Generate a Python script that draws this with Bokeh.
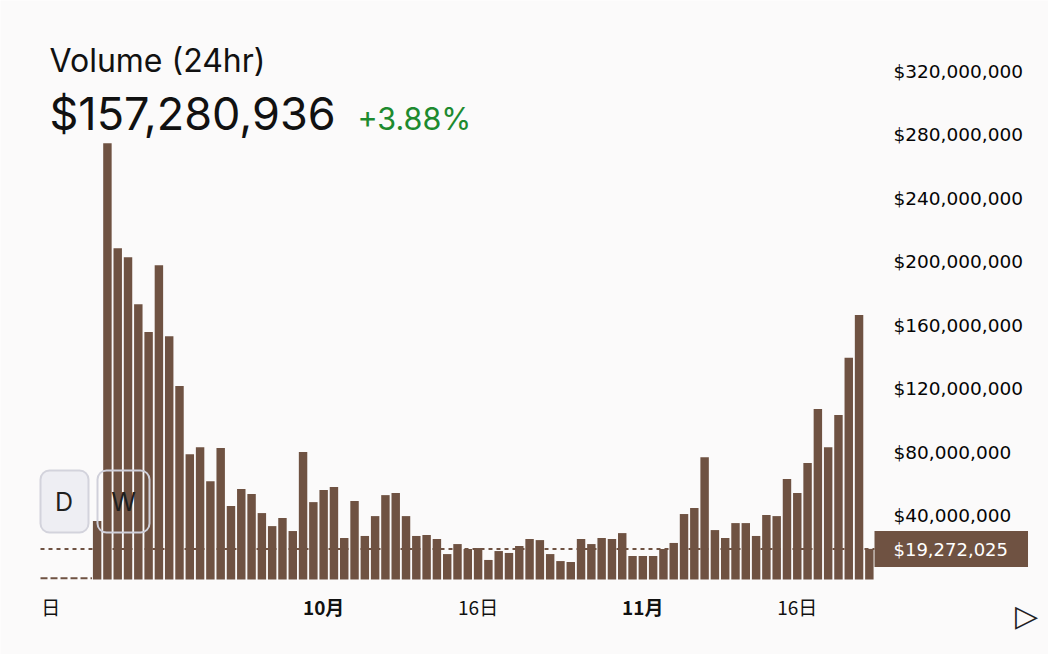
from bokeh.plotting import figure
from bokeh.models import (Range1d, FixedTicker, NumeralTickFormatter, Label,
                          ColumnDataSource, LinearAxis)
from bokeh.embed import file_html
from bokeh.resources import INLINE

# ---------------- data ----------------
# one bar per day, 9 Sep .. 23 Nov (index 0 .. 75)
day_index = list(range(76))
volume_musd = [
    36.8, 274.5, 208.5, 202.8, 173.3, 155.7, 197.8, 153.1, 121.7, 78.9,
    83.3, 61.9, 82.7, 46.2, 56.9, 53.8, 41.8, 33.6, 38.7, 30.5,
    80.2, 48.7, 56.3, 58.2, 26.1, 49.4, 27.4, 39.9, 53.1, 54.4,
    39.9, 27.4, 28.0, 25.5, 16.0, 22.3, 19.2, 19.8, 12.3, 17.9,
    16.7, 21.1, 25.5, 24.8, 16.0, 11.6, 11.0, 25.5, 22.3, 26.1,
    25.5, 29.2, 14.8, 14.8, 14.8, 19.2, 23.0, 41.2, 45.0, 77.0,
    31.1, 26.1, 35.5, 35.5, 27.4, 40.6, 39.9, 63.2, 54.4, 73.3,
    107.3, 83.3, 103.5, 139.6, 166.5, 19.272025,
]
current_volume = 19272025
current_label = "$19,272,025"
headline_volume = "$157,280,936"
headline_change = "+3.88%"
y_ticks = [40e6, 80e6, 120e6, 160e6, 200e6, 240e6, 280e6, 320e6]
day_ticks = [-4.5, 37, 68]
day_tick_labels = ["日", "16日", "16日"]
month_ticks = [22, 53]
month_labels = ["10月", "11月"]

BROWN = "#6F5242"
BG = "#fbfafa"
INK = "#111111"

# ---------------- layout helpers (page pixel -> data) ----------------
W, H = 1048, 654
PLOT_L, PLOT_R, BASE_Y = 40, 874, 579      # page pixels of plotting window
WIN0, WIN1 = -5.5, 75.5                    # data x of plotting window
PX_PER_DAY = (PLOT_R - PLOT_L) / (WIN1 - WIN0)
PX_PER_USD = 1.589e-6


def dx(px):
    return WIN0 + (px - PLOT_L) / PX_PER_DAY


def dy(py):
    return (BASE_Y - py) / PX_PER_USD


src = ColumnDataSource(dict(day=day_index, vol=[v * 1e6 for v in volume_musd]))

p = figure(width=W, height=H, output_backend="svg", toolbar_location=None,
           x_range=Range1d(dx(0), dx(W)), y_range=Range1d(dy(H), dy(0)),
           x_axis_location=None, y_axis_location=None,
           min_border=0, min_border_left=0, min_border_right=0,
           min_border_top=0, min_border_bottom=0)
p.background_fill_color = BG
p.border_fill_color = BG
p.outline_line_color = None
p.xgrid.visible = False
p.ygrid.visible = False

# current value reference line (behind bars)
p.segment(x0=[WIN0], x1=[WIN1], y0=[current_volume], y1=[current_volume],
          line_color=BROWN, line_width=2, line_dash="4 4")
# dashed baseline for days before the series
p.segment(x0=[WIN0], x1=[day_index[0] - 0.5], y0=[0.8e6], y1=[0.8e6],
          line_color=BROWN, line_width=2, line_dash="7 3")

p.vbar(x="day", top="vol", width=0.82, source=src, fill_color=BROWN, line_color=None)

# y axis (right of the plotting window)
ya = LinearAxis(fixed_location=WIN1, ticker=FixedTicker(ticks=y_ticks),
                formatter=NumeralTickFormatter(format="$0,0"))
ya.axis_line_color = None
ya.major_tick_line_color = None
ya.minor_tick_line_color = None
ya.major_tick_out = 0
ya.major_tick_in = 0
ya.major_label_standoff = 19
ya.major_label_text_font = "DejaVu Sans"
ya.major_label_text_font_size = "18.5px"
ya.major_label_text_color = "#050505"
p.add_layout(ya, "right")


def x_axis(ticks, labels, style):
    ax = LinearAxis(fixed_location=0, ticker=FixedTicker(ticks=ticks))
    ax.major_label_overrides = dict(zip(ticks, labels))
    ax.axis_line_color = None
    ax.major_tick_line_color = None
    ax.minor_tick_line_color = None
    ax.major_tick_out = 0
    ax.major_tick_in = 0
    ax.major_label_standoff = 13
    ax.major_label_text_font = "Noto Sans CJK JP"
    ax.major_label_text_font_size = "19px"
    ax.major_label_text_font_style = style
    ax.major_label_text_color = INK
    p.add_layout(ax, "below")


x_axis(day_ticks, day_tick_labels, "normal")
x_axis(month_ticks, month_labels, "bold")

# headline texts
p.add_layout(Label(x=dx(49), y=dy(60), text="Volume (24hr)", text_font="Inter",
                   text_font_size="32px", text_color=INK, text_baseline="alphabetic"))
p.add_layout(Label(x=dx(49), y=dy(113), text=headline_volume, text_font="Inter",
                   text_font_size="45px", text_color=INK, text_baseline="alphabetic"))
p.add_layout(Label(x=dx(357), y=dy(118), text=headline_change, text_font="Inter",
                   text_font_size="30.5px", text_color="#1d8a2f", text_baseline="alphabetic"))

# D / W buttons
p.quad(left=[dx(40)], right=[dx(88)], bottom=[dy(532)], top=[dy(470)], border_radius=9,
       fill_color="#eeeef3", line_color="#d3d3dc", line_width=2)
p.quad(left=[dx(97)], right=[dx(149)], bottom=[dy(532)], top=[dy(470)], border_radius=9,
       fill_alpha=0, line_color="#d0d0da", line_width=2)
p.add_layout(Label(x=dx(63.5), y=dy(501), text="D", text_font="Inter", text_font_size="25px",
                   text_color="#1f1f1f", text_align="center", text_baseline="middle"))
p.add_layout(Label(x=dx(123), y=dy(501), text="W", text_font="Inter", text_font_size="25px",
                   text_color="#1f1f1f", text_align="center", text_baseline="middle"))

# current value tag on the axis
p.add_layout(Label(x=WIN1, y=current_volume, text=current_label, text_font="DejaVu Sans",
                   text_font_size="18px", text_color="white", text_align="left",
                   text_baseline="middle", background_fill_color=BROWN,
                   padding=dict(left=19, right=20, top=8, bottom=7)))
p.segment(x0=[dx(875)], x1=[dx(882)], y0=[current_volume], y1=[current_volume],
          line_color="white", line_width=2)

# play triangle
p.add_layout(Label(x=dx(1026), y=dy(615), text="▷", text_font="DejaVu Sans",
                   text_font_size="30px", text_color="#222222", text_align="center",
                   text_baseline="middle"))

open("out.html", "w").write(file_html(p, INLINE))
